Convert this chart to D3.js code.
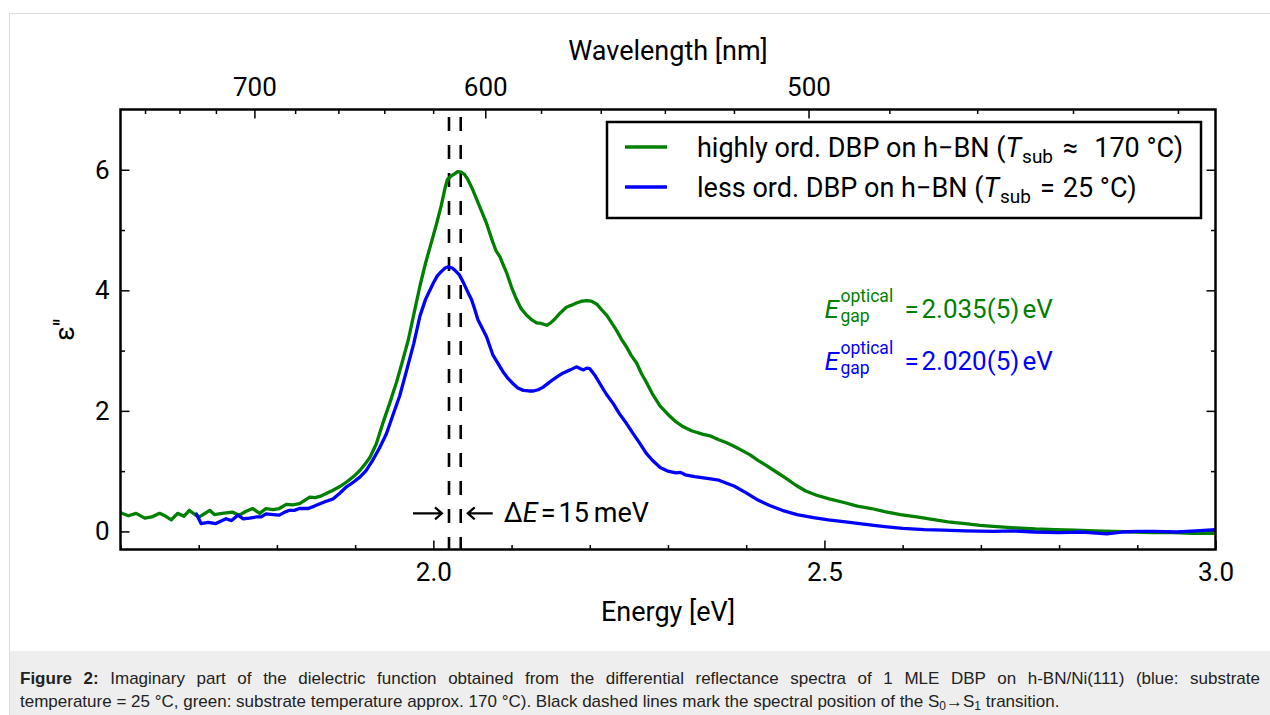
<!DOCTYPE html>
<html>
<head>
<meta charset="utf-8">
<script src="https://cdn.jsdelivr.net/npm/d3@7"></script>
<style>
  html, body { margin: 0; padding: 0; background: #ffffff; }
  svg { display: block; }
</style>
</head>
<body>
<svg id="chart" width="1270" height="715"></svg>
<script>
// ---------------- data ----------------
const energyGreen = [1.600,1.610,1.620,1.631,1.640,1.650,1.658,1.665,1.673,1.681,1.688,1.695,1.701,1.708,1.714,1.720,1.730,1.743,1.752,1.760,1.769,1.778,1.786,1.795,1.803,1.812,1.820,1.829,1.836,1.842,1.849,1.855,1.863,1.871,1.880,1.889,1.898,1.906,1.913,1.919,1.927,1.935,1.944,1.953,1.960,1.968,1.975,1.983,1.990,1.998,2.004,2.010,2.015,2.018,2.023,2.027,2.031,2.036,2.040,2.044,2.050,2.055,2.062,2.068,2.076,2.080,2.085,2.090,2.094,2.100,2.106,2.112,2.119,2.125,2.132,2.138,2.145,2.150,2.155,2.162,2.170,2.176,2.183,2.190,2.196,2.202,2.209,2.215,2.222,2.228,2.234,2.240,2.247,2.253,2.260,2.266,2.273,2.281,2.290,2.300,2.310,2.319,2.330,2.345,2.355,2.365,2.375,2.385,2.395,2.405,2.415,2.425,2.438,2.451,2.463,2.476,2.490,2.506,2.525,2.542,2.560,2.577,2.597,2.618,2.638,2.658,2.680,2.699,2.720,2.744,2.770,2.795,2.820,2.845,2.870,2.896,2.920,2.946,2.970,3.000];
const epsGreen = [0.31,0.26,0.30,0.22,0.24,0.30,0.25,0.19,0.30,0.25,0.35,0.28,0.24,0.30,0.35,0.28,0.30,0.32,0.27,0.33,0.38,0.30,0.38,0.36,0.38,0.45,0.44,0.46,0.52,0.57,0.56,0.58,0.63,0.68,0.74,0.82,0.91,1.01,1.12,1.23,1.45,1.78,2.12,2.48,2.80,3.18,3.60,4.08,4.45,4.82,5.10,5.40,5.70,5.84,5.90,5.93,5.97,5.96,5.92,5.84,5.68,5.52,5.30,5.11,4.80,4.66,4.56,4.40,4.28,4.05,3.86,3.70,3.59,3.52,3.46,3.45,3.42,3.46,3.52,3.62,3.72,3.75,3.79,3.82,3.83,3.82,3.77,3.68,3.58,3.46,3.34,3.20,3.06,2.92,2.79,2.62,2.46,2.26,2.08,1.94,1.82,1.74,1.67,1.61,1.58,1.52,1.47,1.41,1.34,1.27,1.18,1.10,0.99,0.88,0.77,0.67,0.60,0.54,0.48,0.42,0.38,0.33,0.28,0.24,0.20,0.16,0.13,0.10,0.08,0.06,0.04,0.03,0.02,0.01,0.00,-0.01,-0.02,-0.02,-0.03,-0.03];

const energyBlue = [1.697,1.703,1.712,1.722,1.728,1.735,1.742,1.750,1.757,1.765,1.774,1.780,1.786,1.795,1.803,1.810,1.816,1.822,1.829,1.840,1.848,1.855,1.863,1.872,1.880,1.889,1.898,1.906,1.914,1.922,1.931,1.940,1.948,1.957,1.966,1.975,1.983,1.990,2.000,2.005,2.010,2.015,2.019,2.024,2.027,2.033,2.038,2.043,2.049,2.053,2.057,2.063,2.068,2.072,2.076,2.083,2.089,2.096,2.102,2.108,2.115,2.122,2.128,2.134,2.140,2.147,2.153,2.160,2.166,2.175,2.183,2.188,2.192,2.196,2.200,2.206,2.213,2.221,2.230,2.238,2.247,2.255,2.264,2.272,2.280,2.290,2.300,2.310,2.316,2.322,2.334,2.350,2.365,2.375,2.385,2.400,2.415,2.430,2.446,2.465,2.486,2.505,2.527,2.550,2.577,2.600,2.628,2.652,2.680,2.716,2.740,2.769,2.800,2.830,2.861,2.880,2.900,2.921,2.950,2.975,3.000];
const epsBlue = [0.29,0.13,0.15,0.13,0.17,0.21,0.18,0.27,0.21,0.22,0.24,0.24,0.29,0.28,0.27,0.32,0.35,0.35,0.38,0.38,0.42,0.46,0.50,0.54,0.63,0.74,0.82,0.90,1.01,1.17,1.38,1.62,1.92,2.25,2.68,3.12,3.58,3.85,4.12,4.24,4.31,4.37,4.39,4.37,4.34,4.26,4.14,4.00,3.84,3.68,3.51,3.36,3.23,3.08,2.93,2.78,2.65,2.53,2.45,2.38,2.34,2.33,2.33,2.35,2.39,2.46,2.52,2.58,2.63,2.68,2.73,2.70,2.68,2.71,2.70,2.60,2.45,2.28,2.12,1.95,1.79,1.63,1.46,1.30,1.18,1.06,1.00,0.97,0.98,0.94,0.91,0.88,0.85,0.80,0.75,0.64,0.52,0.43,0.35,0.28,0.23,0.19,0.16,0.12,0.08,0.05,0.03,0.02,0.01,0.00,0.01,-0.01,-0.02,-0.01,-0.04,-0.01,0.00,0.00,-0.01,0.01,0.03];

const gapEnergies = [2.020, 2.035];
const energyMajorTicks = [2.0, 2.5, 3.0];
const energyMinorTicks = [1.6,1.7,1.8,1.9,2.1,2.2,2.3,2.4,2.6,2.7,2.8,2.9];
const epsMajorTicks = [0, 2, 4, 6];
const epsMinorTicks = [1, 3, 5];
const wavelengthMajorTicks = [700, 600, 500];
const wavelengthMinorTicks = [760,740,720,680,660,640,620,580,560,540,520,480,460,440,420];
const legendLabels = ["highly ord. DBP on h\u2212BN (", "less ord. DBP on h\u2212BN ("];
const legendRelations = ["\u2248", "="];
const legendTemps = ["170 \u00B0C)", "25 \u00B0C)"];
const gapLabels = ["2.035(5)", "2.020(5)"];
const seriesColors = ["#008000", "#0000ff"];

(function () {
const svg = d3.select("#chart");
const FONT = "Roboto, 'Noto Sans', sans-serif";
const pL = 120.5, pR = 1215.5, pT = 109.5, pB = 549.5;

// figure background
svg.append("rect").attr("x", 9.5).attr("y", 13.5).attr("width", 1270).attr("height", 720)
  .attr("fill", "#ffffff").attr("stroke", "#dddddd").attr("stroke-width", 1);
svg.append("rect").attr("x", 10).attr("y", 651).attr("width", 1260).attr("height", 64)
  .attr("fill", "#eeeeee");

const x = d3.scaleLinear().domain([1.6, 3.0]).range([pL, pR]);
const y = d3.scaleLinear().domain([-0.3, 7.0]).range([pB, pT]);
const hc = 1239.84;

const g = svg.append("g");

function styleAxis(sel, size) {
  sel.select(".domain").remove();
  sel.selectAll(".tick line").attr("stroke", "#000").attr("stroke-width", 1.5);
  sel.selectAll(".tick text").attr("font-family", FONT).attr("font-size", size).attr("fill", "#000");
}

// bottom axis
g.append("g").attr("transform", `translate(0,${pB})`)
  .call(d3.axisBottom(x).tickValues(energyMajorTicks).tickFormat(d3.format(".1f")).tickSize(-9).tickPadding(13))
  .call(s => styleAxis(s, 26));
g.append("g").attr("transform", `translate(0,${pB})`)
  .call(d3.axisBottom(x).tickValues(energyMinorTicks).tickFormat(() => "").tickSize(-4.5))
  .call(s => styleAxis(s, 26));

// left axis
g.append("g").attr("transform", `translate(${pL},0)`)
  .call(d3.axisLeft(y).tickValues(epsMajorTicks).tickFormat(d3.format("d")).tickSize(-9).tickPadding(11))
  .call(s => styleAxis(s, 26));
g.append("g").attr("transform", `translate(${pL},0)`)
  .call(d3.axisLeft(y).tickValues(epsMinorTicks).tickFormat(() => "").tickSize(-4.5))
  .call(s => styleAxis(s, 26));

// right axis (ticks only)
g.append("g").attr("transform", `translate(${pR},0)`)
  .call(d3.axisRight(y).tickValues(epsMajorTicks).tickFormat(() => "").tickSize(-9))
  .call(s => styleAxis(s, 26));
g.append("g").attr("transform", `translate(${pR},0)`)
  .call(d3.axisRight(y).tickValues(epsMinorTicks).tickFormat(() => "").tickSize(-4.5))
  .call(s => styleAxis(s, 26));

// top axis: wavelength, mapped through the energy scale (E = hc / lambda)
const topScale = lam => x(hc / lam);
topScale.copy = () => topScale;
topScale.domain = () => [hc / 1.6, hc / 3.0];
topScale.range = () => [pL, pR];
g.append("g").attr("transform", `translate(0,${pT})`)
  .call(d3.axisTop(topScale).tickValues(wavelengthMajorTicks).tickFormat(d3.format("d")).tickSize(-9).tickPadding(14))
  .call(s => styleAxis(s, 26));
g.append("g").attr("transform", `translate(0,${pT})`)
  .call(d3.axisTop(topScale).tickValues(wavelengthMinorTicks).tickFormat(() => "").tickSize(-4.5))
  .call(s => styleAxis(s, 26));

// clip
svg.append("clipPath").attr("id", "plotclip").append("rect")
  .attr("x", pL).attr("y", pT).attr("width", pR - pL).attr("height", pB - pT);
const plot = svg.append("g").attr("clip-path", "url(#plotclip)");

// dashed lines
plot.selectAll("line.gap").data(gapEnergies).join("line").attr("class", "gap")
  .attr("x1", d => x(d)).attr("x2", d => x(d))
  .attr("y1", y(7.0)).attr("y2", y(-0.3))
  .attr("stroke", "#000").attr("stroke-width", 2.6)
  .attr("stroke-dasharray", "14,14").attr("stroke-dashoffset", 20.5);

// curves
const line = d3.line().x(d => x(d[0])).y(d => y(d[1]));
const series = [d3.zip(energyGreen, epsGreen), d3.zip(energyBlue, epsBlue)];
plot.selectAll("path.series").data(series).join("path").attr("class", "series")
  .attr("d", line).attr("fill", "none")
  .attr("stroke", (d, i) => seriesColors[i]).attr("stroke-width", 3.3)
  .attr("stroke-linejoin", "round").attr("stroke-linecap", "round");

// frame
svg.append("rect").attr("x", pL).attr("y", pT).attr("width", pR - pL).attr("height", pB - pT)
  .attr("fill", "none").attr("stroke", "#000").attr("stroke-width", 2.5);

// axis titles
svg.append("text").attr("x", (pL + pR) / 2).attr("y", 621).attr("text-anchor", "middle")
  .attr("font-family", FONT).attr("font-size", 27).text("Energy [eV]");
svg.append("text").attr("x", (pL + pR) / 2).attr("y", 60).attr("text-anchor", "middle")
  .attr("font-family", FONT).attr("font-size", 27).text("Wavelength [nm]");
svg.append("text").attr("transform", `translate(74,${(pT + pB) / 2}) rotate(-90)`).attr("text-anchor", "middle")
  .attr("font-family", FONT).attr("font-size", 27).text("\u03B5''");

// legend
const relGaps = [[10, 16], [9, 8]];
const lg = svg.append("g");
lg.append("rect").attr("x", 607).attr("y", 122).attr("width", 594).attr("height", 96)
  .attr("fill", "#fff").attr("stroke", "#000").attr("stroke-width", 2.5);
legendLabels.forEach((lab, i) => {
  const ly = 147 + i * 40;
  lg.append("line").attr("x1", 625).attr("x2", 667).attr("y1", ly).attr("y2", ly)
    .attr("stroke", seriesColors[i]).attr("stroke-width", 3.5);
  const t = lg.append("text").attr("x", 697).attr("y", ly + 9.5).attr("font-family", FONT).attr("font-size", 27).attr("fill", "#000");
  t.append("tspan").text(lab);
  t.append("tspan").attr("font-style", "italic").text("T");
  t.append("tspan").attr("font-size", 19).attr("dy", 6).attr("dx", 1).text("sub");
  t.append("tspan").attr("dy", -6).attr("dx", relGaps[i][0]).text(legendRelations[i]);
  t.append("tspan").attr("dx", relGaps[i][1]).text(legendTemps[i]);
});

// gap annotations (one text element each, with positioned tspans)
const gapPos = [[2.5, 3.54], [2.5, 2.68]];
gapPos.forEach((p, i) => {
  const ax = x(p[0]), ay = y(p[1]);
  const t = svg.append("text").attr("fill", seriesColors[i]).attr("font-family", FONT).attr("font-size", 26)
    .attr("x", ax).attr("y", ay);
  t.append("tspan").attr("font-style", "italic").text("E");
  t.append("tspan").attr("x", ax + 16).attr("y", ay - 16).attr("font-size", 17.5).text("optical");
  t.append("tspan").attr("x", ax + 16).attr("y", ay + 4).attr("font-size", 17.5).text("gap");
  t.append("tspan").attr("x", ax + 80).attr("y", ay).text("=");
  t.append("tspan").attr("x", ax + 97).attr("y", ay).text(gapLabels[i]);
  t.append("tspan").attr("x", ax + 198).attr("y", ay).text("eV");
});

// delta E annotation
const arrowY = y(0.3);
const aL = x(gapEnergies[0]) - 7, aR = x(gapEnergies[1]) + 7;
const arr = svg.append("g").attr("stroke", "#000").attr("stroke-width", 2.2).attr("fill", "none");
arr.append("path").attr("d", `M${aL - 29},${arrowY}H${aL} M${aL - 7},${arrowY - 6}L${aL},${arrowY}L${aL - 7},${arrowY + 6}`);
arr.append("path").attr("d", `M${aR + 25},${arrowY}H${aR} M${aR + 7},${arrowY - 6}L${aR},${arrowY}L${aR + 7},${arrowY + 6}`);
const dt = svg.append("text").attr("x", aR + 36).attr("y", arrowY + 9).attr("font-family", FONT).attr("font-size", 27).attr("fill", "#000");
dt.append("tspan").text("\u0394");
dt.append("tspan").attr("font-style", "italic").text("E");
dt.append("tspan").attr("dx", 3).text("=");
dt.append("tspan").attr("dx", 3).text("15");
dt.append("tspan").attr("dx", 5).text("meV");

// caption (justified first line)
const cap = svg.append("g").attr("font-family", "'Liberation Sans', Arial, sans-serif").attr("font-size", 17).attr("fill", "#222");
const c1 = cap.append("text").attr("x", 20).attr("y", 684);
c1.append("tspan").attr("font-weight", "bold").text("Figure 2:");
c1.append("tspan").text(" Imaginary part of the dielectric function obtained from the differential reflectance spectra of 1 MLE DBP on h-BN/Ni(111) (blue: substrate");
const natural = c1.node().getComputedTextLength();
const nSpaces = (c1.text().match(/ /g) || []).length;
c1.attr("word-spacing", Math.max(0, (1240 - natural) / nSpaces));
const c2 = cap.append("text").attr("x", 20).attr("y", 707);
c2.append("tspan").text("temperature = 25 \u00B0C, green: substrate temperature approx. 170 \u00B0C). Black dashed lines mark the spectral position of the S");
c2.append("tspan").attr("font-size", 12).attr("dy", 3).text("0");
c2.append("tspan").attr("dy", -3).text("\u2192S");
c2.append("tspan").attr("font-size", 12).attr("dy", 3).text("1");
c2.append("tspan").attr("dy", -3).text(" transition.");
})();
</script>
</body>
</html>
